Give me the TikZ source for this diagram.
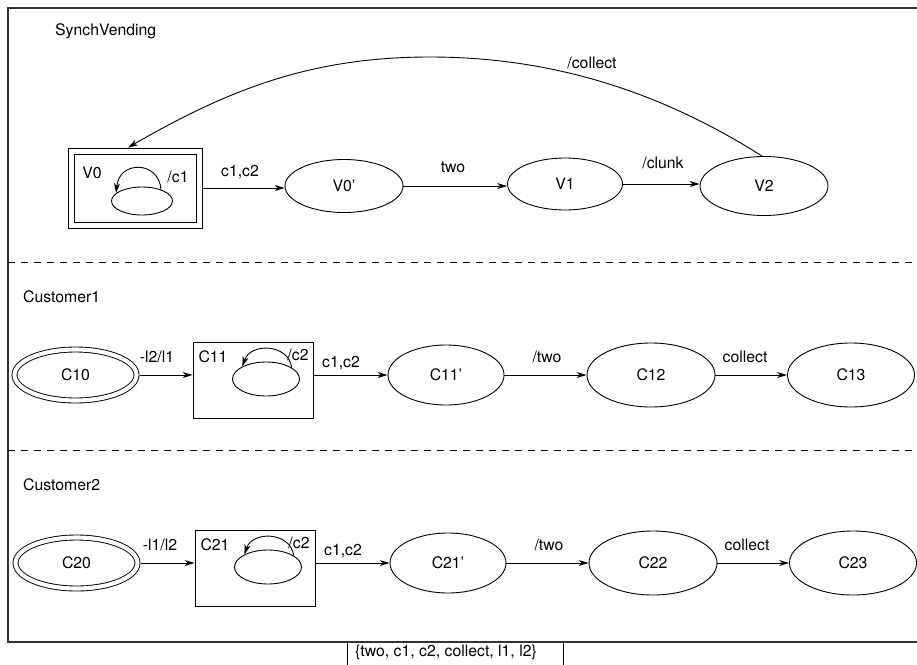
\documentclass[tikz,border=0pt]{standalone}
\usepackage{fontspec}
\setmainfont{TeX Gyre Heros}
\usetikzlibrary{arrows.meta,shapes.geometric}
\begin{document}
\begin{tikzpicture}[x=1pt,y=-1pt,
  font=\fontsize{15.8}{18}\selectfont,
  state/.style={ellipse,draw,line width=0.9pt,inner sep=0pt},
  initstate/.style={state,double,double distance=4.1pt,outer sep=3pt},
  loopring/.style={ellipse,draw,line width=0.9pt,inner sep=0pt},
  superbox/.style={rectangle,draw,line width=0.9pt,inner sep=0pt},
  trans/.style={line width=0.9pt,-{Stealth[length=10pt,width=6pt,inset=3pt]}},
  lbl/.style={inner sep=0pt},
  partition/.style={line width=0.9pt,dash pattern=on 7pt off 6pt},
  frame/.style={line width=1.5pt,draw=black!80}]
\useasboundingbox (0,0) rectangle (917,664);

% outer frame (open to the right) and region separators
\draw[frame] (930,8) -- (8,8) -- (8,642) -- (930,642);
\draw[partition] (8,262) -- (917,262);
\draw[partition] (8,450) -- (917,450);

% alphabet box below the frame
\draw[line width=0.9pt] (347,642) -- (347,670);
\draw[line width=0.9pt] (563,642) -- (563,670);
\node[lbl,anchor=west] (alphabet) at (355,652) {\{two, c1, c2, collect, l1, l2\}};

% ---------------- SynchVending ----------------
\node[lbl,anchor=west] (title1) at (55,31) {SynchVending};

\node[superbox,minimum width=134pt,minimum height=80pt] (v0box) at (135,188) {};
\draw[line width=0.9pt] ([shift={(6.5,6.5)}]v0box.north west) rectangle ([shift={(-6.5,-6.5)}]v0box.south east);
\node[lbl] (v0name) at (92,173) {V0};
\node[loopring,minimum width=61pt,minimum height=28pt] (v0ring) at (142,201) {};
\draw[trans] (v0ring.31) .. controls +(-2,-29) and +(3,-33) .. (v0ring.163);
\node[lbl] (v0out) at (178,177) {/c1};

\node[state,minimum width=118pt,minimum height=53pt] (v0p) at (344,186) {V0'};
\node[state,minimum width=115pt,minimum height=52pt] (v1) at (565,184) {V1};
\node[state,minimum width=128pt,minimum height=59pt] (v2) at (764,186) {V2};

\draw[trans] (v0box.east) -- (v0box.east -| v0p.west);
\draw[trans] (v0p.east) -- (v0p.east -| v1.west);
\draw[trans] (v1.east) -- (v1.east -| v2.west);
\draw[trans] ([xshift=-2pt]v2.north) .. controls (650,85) and (540,57) .. (430,57)
  .. controls (310,57) and (228,90) .. ([xshift=-7pt]v0box.north);

\node[lbl] (t1) at (240,172) {c1,c2};
\node[lbl] (t2) at (453,167) {two};
\node[lbl] (t3) at (663,163) {/clunk};
\node[lbl] (t4) at (592,63) {/collect};

% ---------------- Customer1 ----------------
\node[lbl,anchor=west] (title2) at (23,297) {Customer1};

\node[initstate,minimum width=122pt,minimum height=51pt] (c10) at (75.5,375) {C10};
\node[superbox,minimum width=120pt,minimum height=76pt] (c11box) at (253,380) {};
\node[lbl] (c11name) at (213,357) {C11};
\node[loopring,minimum width=67pt,minimum height=34pt] (c11ring) at (266,379) {};
\draw[trans] (c11ring.24) .. controls +(-3,-24) and +(8,-24) .. (c11ring.152);
\node[lbl] (c11out) at (298,355) {/c2};
\node[state,minimum width=116pt,minimum height=60pt] (c11p) at (446,375) {C11'};
\node[state,minimum width=128pt,minimum height=64pt] (c12) at (651,375) {C12};
\node[state,minimum width=127pt,minimum height=64pt] (c13) at (851,375) {C13};

\draw[trans] (c10.east) -- (c10.east -| c11box.west);
\draw[trans] (c11box.east |- c11p.west) -- (c11p.west);
\draw[trans] (c11p) -- (c12);
\draw[trans] (c12) -- (c13);

\node[lbl] (u1) at (157,357) {-l2/l1};
\node[lbl] (u2) at (341,363) {c1,c2};
\node[lbl] (u3) at (547,357) {/two};
\node[lbl] (u4) at (745,357) {collect};

% ---------------- Customer2 ----------------
\node[lbl,anchor=west] (title3) at (23,485) {Customer2};

\node[initstate,minimum width=122pt,minimum height=51pt] (c20) at (76.5,563) {C20};
\node[superbox,minimum width=120pt,minimum height=76pt] (c21box) at (255,568) {};
\node[lbl] (c21name) at (215,545) {C21};
\node[loopring,minimum width=67pt,minimum height=34pt] (c21ring) at (268,567) {};
\draw[trans] (c21ring.24) .. controls +(-3,-24) and +(8,-24) .. (c21ring.152);
\node[lbl] (c21out) at (299,543) {/c2};
\node[state,minimum width=116pt,minimum height=60pt] (c21p) at (448,563) {C21'};
\node[state,minimum width=128pt,minimum height=64pt] (c22) at (653,563) {C22};
\node[state,minimum width=127pt,minimum height=64pt] (c23) at (853,563) {C23};

\draw[trans] (c20.east) -- (c20.east -| c21box.west);
\draw[trans] (c21box.east |- c21p.west) -- (c21p.west);
\draw[trans] (c21p) -- (c22);
\draw[trans] (c22) -- (c23);

\node[lbl] (w1) at (160,545) {-l1/l2};
\node[lbl] (w2) at (343,551) {c1,c2};
\node[lbl] (w3) at (549,545) {/two};
\node[lbl] (w4) at (747,545) {collect};
\end{tikzpicture}
\end{document}
